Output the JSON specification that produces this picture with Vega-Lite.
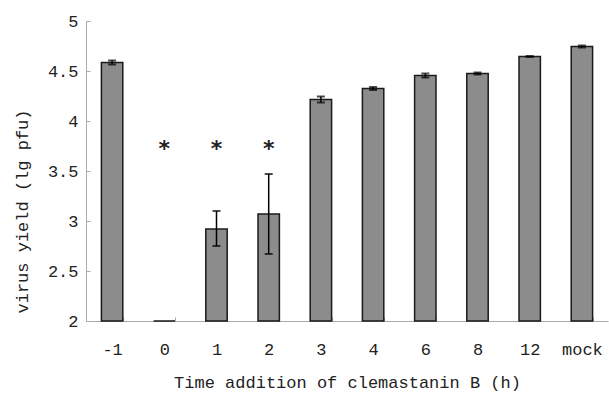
{
  "$schema": "https://vega.github.io/schema/vega-lite/v6.json",
  "width": 522,
  "height": 300,
  "autosize": "none",
  "padding": {"left": 86, "top": 21, "right": 1, "bottom": 74},
  "background": "white",
  "config": {
    "view": {"stroke": null},
    "font": "Liberation Mono"
  },
  "data": {
    "values": [
      {"time": "-1", "value": 4.585, "lo": 4.565, "hi": 4.605, "sig": null},
      {"time": "0", "value": 2.0, "lo": null, "hi": null, "sig": "*"},
      {"time": "1", "value": 2.92, "lo": 2.75, "hi": 3.10, "sig": "*"},
      {"time": "2", "value": 3.07, "lo": 2.67, "hi": 3.47, "sig": "*"},
      {"time": "3", "value": 4.215, "lo": 4.185, "hi": 4.245, "sig": null},
      {"time": "4", "value": 4.325, "lo": 4.31, "hi": 4.34, "sig": null},
      {"time": "6", "value": 4.455, "lo": 4.435, "hi": 4.475, "sig": null},
      {"time": "8", "value": 4.475, "lo": 4.465, "hi": 4.485, "sig": null},
      {"time": "12", "value": 4.645, "lo": 4.64, "hi": 4.65, "sig": null},
      {"time": "mock", "value": 4.745, "lo": 4.735, "hi": 4.755, "sig": null}
    ]
  },
  "encoding": {
    "x": {
      "field": "time",
      "type": "ordinal",
      "sort": null,
      "scale": {"paddingInner": 0.59, "paddingOuter": 0.295},
      "axis": {
        "title": "Time addition of clemastanin B (h)",
        "labelAngle": 0,
        "labelFontSize": 17,
        "labelColor": "#222",
        "labelPadding": 24,
        "titleFontSize": 17,
        "titleFontWeight": "normal",
        "titleColor": "#222",
        "titlePadding": 17,
        "tickBand": "extent",
        "tickSize": -4,
        "tickColor": "#aaa",
        "domainColor": "#aaa"
      }
    }
  },
  "layer": [
    {
      "mark": {"type": "bar", "color": "#8c8c8c", "stroke": "#1a1a1a", "strokeWidth": 1.5},
      "encoding": {
        "y": {
          "field": "value",
          "type": "quantitative",
          "scale": {"domain": [2, 5], "zero": false, "nice": false},
          "axis": {
            "title": "virus yield (lg pfu)",
            "values": [2, 2.5, 3, 3.5, 4, 4.5, 5],
            "format": "~g",
            "grid": false,
            "labelFontSize": 17,
            "labelColor": "#222",
            "labelPadding": 12,
            "titleFontSize": 17,
            "titleFontWeight": "normal",
            "titleColor": "#222",
            "titlePadding": 16,
            "titleY": 190,
            "tickSize": -4,
            "tickColor": "#aaa",
            "domainColor": "#aaa"
          }
        },
        "y2": {"datum": 2}
      }
    },
    {
      "transform": [{"filter": "datum.lo != null"}],
      "mark": {"type": "rule", "color": "black", "strokeWidth": 1.5},
      "encoding": {
        "y": {"field": "lo", "type": "quantitative"},
        "y2": {"field": "hi"}
      }
    },
    {
      "transform": [{"filter": "datum.lo != null"}],
      "mark": {"type": "tick", "color": "black", "thickness": 2, "size": 8},
      "encoding": {"y": {"field": "lo", "type": "quantitative"}}
    },
    {
      "transform": [{"filter": "datum.hi != null"}],
      "mark": {"type": "tick", "color": "black", "thickness": 2, "size": 8},
      "encoding": {"y": {"field": "hi", "type": "quantitative"}}
    },
    {
      "transform": [{"filter": "datum.sig != null"}],
      "mark": {"type": "text", "fontSize": 22, "fontWeight": "bold", "color": "#222", "baseline": "middle", "dy": 5, "font": "DejaVu Sans"},
      "encoding": {
        "y": {"datum": 3.77, "type": "quantitative"},
        "text": {"field": "sig"}
      }
    }
  ]
}
